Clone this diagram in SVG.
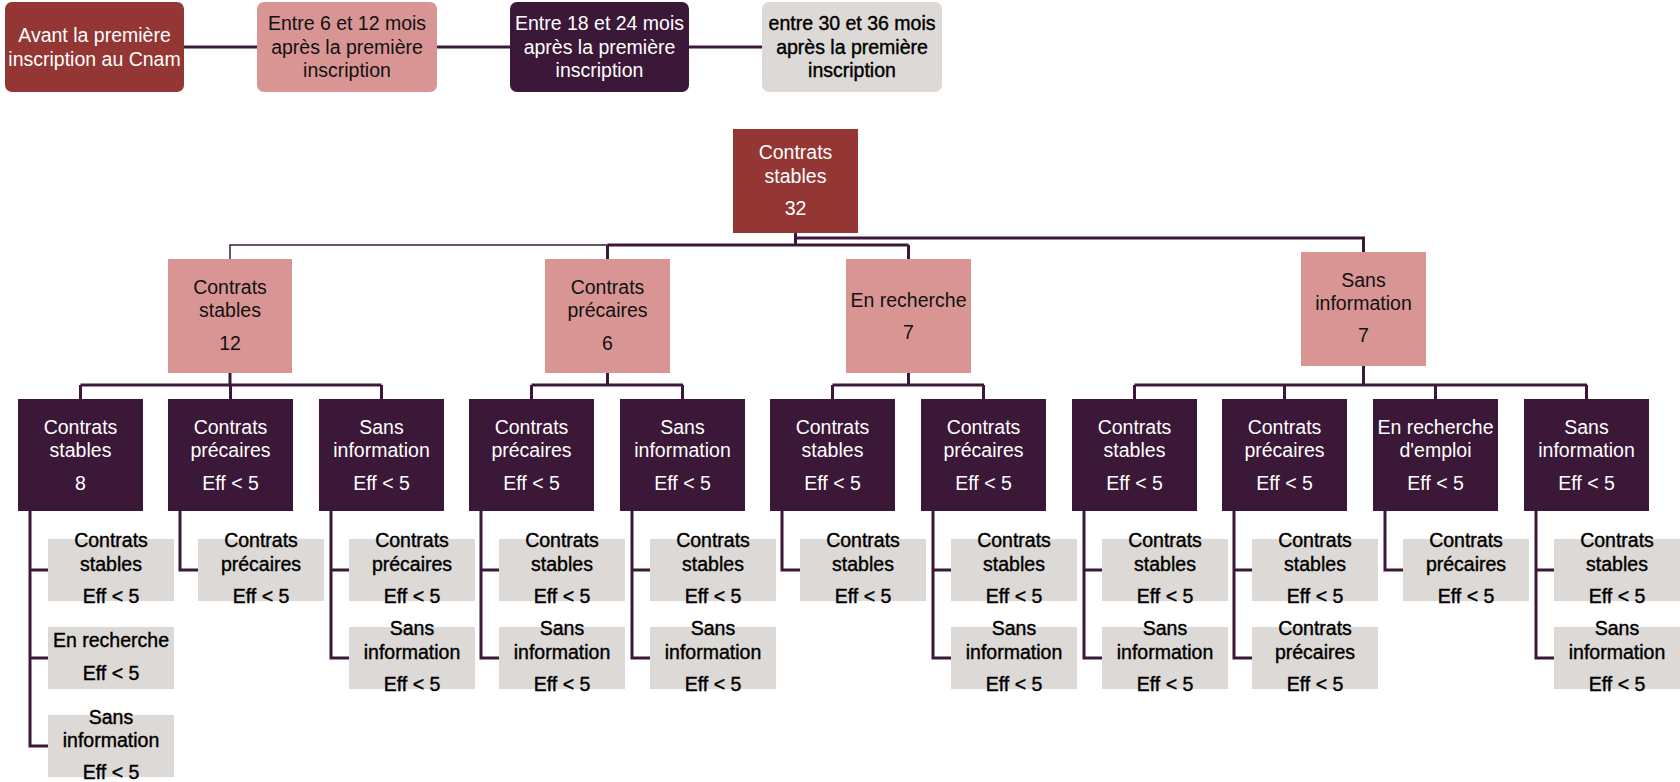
<svg xmlns="http://www.w3.org/2000/svg" width="1680" height="782" viewBox="0 0 1680 782">
<style>
text{font-family:"Liberation Sans",Arial,sans-serif;font-size:19.5px;text-anchor:middle}
.w{fill:#fff}
.k{fill:#111}
.b{fill:#000;stroke:#000;stroke-width:0.4}
.red{fill:#943634}
.pink{fill:#d99594}
.pur{fill:#3b1738}
.gray{fill:#ddd9d6}
.ln{fill:none;stroke:#3b1838;stroke-width:3}
.thin{fill:none;stroke:#3b1838;stroke-width:1.5}
</style>
<rect width="1680" height="782" fill="#fff"/>
<g id="connectors">
<path class="ln" d="M184 47H257M437 47H510M689 47H762"/>
<path class="ln" d="M795.5 233V245M607.5 245H908.5M607.5 245V259M908.5 245V259M795.5 238H1363.5V252"/>
<path class="thin" d="M230 259V245H607.5"/>
<path class="ln" d="M230 373V385M80.5 385H381.5M80.5 385V399M230.5 385V399M381.5 385V399"/>
<path class="ln" d="M607.5 373V385M531.5 385H683M531.5 385V399M682.5 385V399"/>
<path class="ln" d="M908.5 373V385M832.5 385H984M832.5 385V399M983.5 385V399"/>
<path class="ln" d="M1363.5 366V385M1134.5 385H1587M1134.5 385V399M1284.5 385V399M1435.5 385V399M1586.5 385V399"/>
<path class="ln" d="M30 511V746H48M30 570H48M30 658H48"/>
<path class="ln" d="M180 511V570H198"/>
<path class="ln" d="M331 511V658H349M331 570H349"/>
<path class="ln" d="M481 511V658H499M481 570H499"/>
<path class="ln" d="M632 511V658H650M632 570H650"/>
<path class="ln" d="M782 511V570H800"/>
<path class="ln" d="M933 511V658H951M933 570H951"/>
<path class="ln" d="M1084 511V658H1102M1084 570H1102"/>
<path class="ln" d="M1234 511V658H1252M1234 570H1252"/>
<path class="ln" d="M1385 511V570H1403"/>
<path class="ln" d="M1536 511V658H1554M1536 570H1554"/>
</g>
<g id="legend-1"><rect class="red" x="5" y="2" width="179" height="90" rx="7"/><text class="w" x="94.5" y="42">Avant la première</text><text class="w" x="94.5" y="66">inscription au Cnam</text></g>
<g id="legend-2"><rect class="pink" x="257" y="2" width="180" height="90" rx="7"/><text class="k" x="347" y="30">Entre 6 et 12 mois</text><text class="k" x="347" y="54">après la première</text><text class="k" x="347" y="77">inscription</text></g>
<g id="legend-3"><rect class="pur" x="510" y="2" width="179" height="90" rx="7"/><text class="w" x="599.5" y="30">Entre 18 et 24 mois</text><text class="w" x="599.5" y="54">après la première</text><text class="w" x="599.5" y="77">inscription</text></g>
<g id="legend-4"><rect class="gray" x="762" y="2" width="180" height="90" rx="7"/><text class="b" x="852" y="30">entre 30 et 36 mois</text><text class="b" x="852" y="54">après la première</text><text class="b" x="852" y="77">inscription</text></g>
<g id="root"><rect class="red" x="733" y="129" width="125" height="104"/><text class="w" x="795.5" y="159">Contrats</text><text class="w" x="795.5" y="183">stables</text><text class="w" x="795.5" y="215">32</text></g>
<g id="l1-stables"><rect class="pink" x="168" y="259" width="124" height="114"/><text class="k" x="230" y="294">Contrats</text><text class="k" x="230" y="317">stables</text><text class="k" x="230" y="350">12</text></g>
<g id="l1-precaires"><rect class="pink" x="545" y="259" width="125" height="114"/><text class="k" x="607.5" y="294">Contrats</text><text class="k" x="607.5" y="317">précaires</text><text class="k" x="607.5" y="350">6</text></g>
<g id="l1-recherche"><rect class="pink" x="846" y="259" width="125" height="114"/><text class="k" x="908.5" y="307">En recherche</text><text class="k" x="908.5" y="339">7</text></g>
<g id="l1-sansinfo"><rect class="pink" x="1301" y="252" width="125" height="114"/><text class="k" x="1363.5" y="287">Sans</text><text class="k" x="1363.5" y="310">information</text><text class="k" x="1363.5" y="342">7</text></g>
<g id="l2-1"><rect class="pur" x="18" y="399" width="125" height="112"/><text class="w" x="80.5" y="434">Contrats</text><text class="w" x="80.5" y="457">stables</text><text class="w" x="80.5" y="490">8</text></g>
<g id="l2-2"><rect class="pur" x="168" y="399" width="125" height="112"/><text class="w" x="230.5" y="434">Contrats</text><text class="w" x="230.5" y="457">précaires</text><text class="w" x="230.5" y="490">Eff &lt; 5</text></g>
<g id="l2-3"><rect class="pur" x="319" y="399" width="125" height="112"/><text class="w" x="381.5" y="434">Sans</text><text class="w" x="381.5" y="457">information</text><text class="w" x="381.5" y="490">Eff &lt; 5</text></g>
<g id="l2-4"><rect class="pur" x="469" y="399" width="125" height="112"/><text class="w" x="531.5" y="434">Contrats</text><text class="w" x="531.5" y="457">précaires</text><text class="w" x="531.5" y="490">Eff &lt; 5</text></g>
<g id="l2-5"><rect class="pur" x="620" y="399" width="125" height="112"/><text class="w" x="682.5" y="434">Sans</text><text class="w" x="682.5" y="457">information</text><text class="w" x="682.5" y="490">Eff &lt; 5</text></g>
<g id="l2-6"><rect class="pur" x="770" y="399" width="125" height="112"/><text class="w" x="832.5" y="434">Contrats</text><text class="w" x="832.5" y="457">stables</text><text class="w" x="832.5" y="490">Eff &lt; 5</text></g>
<g id="l2-7"><rect class="pur" x="921" y="399" width="125" height="112"/><text class="w" x="983.5" y="434">Contrats</text><text class="w" x="983.5" y="457">précaires</text><text class="w" x="983.5" y="490">Eff &lt; 5</text></g>
<g id="l2-8"><rect class="pur" x="1072" y="399" width="125" height="112"/><text class="w" x="1134.5" y="434">Contrats</text><text class="w" x="1134.5" y="457">stables</text><text class="w" x="1134.5" y="490">Eff &lt; 5</text></g>
<g id="l2-9"><rect class="pur" x="1222" y="399" width="125" height="112"/><text class="w" x="1284.5" y="434">Contrats</text><text class="w" x="1284.5" y="457">précaires</text><text class="w" x="1284.5" y="490">Eff &lt; 5</text></g>
<g id="l2-10"><rect class="pur" x="1373" y="399" width="125" height="112"/><text class="w" x="1435.5" y="434">En recherche</text><text class="w" x="1435.5" y="457">d'emploi</text><text class="w" x="1435.5" y="490">Eff &lt; 5</text></g>
<g id="l2-11"><rect class="pur" x="1524" y="399" width="125" height="112"/><text class="w" x="1586.5" y="434">Sans</text><text class="w" x="1586.5" y="457">information</text><text class="w" x="1586.5" y="490">Eff &lt; 5</text></g>
<g id="l3-1a"><rect class="gray" x="48" y="539" width="126" height="62"/><text class="b" x="111" y="547">Contrats</text><text class="b" x="111" y="571">stables</text><text class="b" x="111" y="603">Eff &lt; 5</text></g>
<g id="l3-1b"><rect class="gray" x="48" y="627" width="126" height="62"/><text class="b" x="111" y="647">En recherche</text><text class="b" x="111" y="680">Eff &lt; 5</text></g>
<g id="l3-1c"><rect class="gray" x="48" y="715" width="126" height="62"/><text class="b" x="111" y="724">Sans</text><text class="b" x="111" y="747">information</text><text class="b" x="111" y="779">Eff &lt; 5</text></g>
<g id="l3-2a"><rect class="gray" x="198" y="539" width="126" height="62"/><text class="b" x="261" y="547">Contrats</text><text class="b" x="261" y="571">précaires</text><text class="b" x="261" y="603">Eff &lt; 5</text></g>
<g id="l3-3a"><rect class="gray" x="349" y="539" width="126" height="62"/><text class="b" x="412" y="547">Contrats</text><text class="b" x="412" y="571">précaires</text><text class="b" x="412" y="603">Eff &lt; 5</text></g>
<g id="l3-3b"><rect class="gray" x="349" y="627" width="126" height="62"/><text class="b" x="412" y="635">Sans</text><text class="b" x="412" y="659">information</text><text class="b" x="412" y="691">Eff &lt; 5</text></g>
<g id="l3-4a"><rect class="gray" x="499" y="539" width="126" height="62"/><text class="b" x="562" y="547">Contrats</text><text class="b" x="562" y="571">stables</text><text class="b" x="562" y="603">Eff &lt; 5</text></g>
<g id="l3-4b"><rect class="gray" x="499" y="627" width="126" height="62"/><text class="b" x="562" y="635">Sans</text><text class="b" x="562" y="659">information</text><text class="b" x="562" y="691">Eff &lt; 5</text></g>
<g id="l3-5a"><rect class="gray" x="650" y="539" width="126" height="62"/><text class="b" x="713" y="547">Contrats</text><text class="b" x="713" y="571">stables</text><text class="b" x="713" y="603">Eff &lt; 5</text></g>
<g id="l3-5b"><rect class="gray" x="650" y="627" width="126" height="62"/><text class="b" x="713" y="635">Sans</text><text class="b" x="713" y="659">information</text><text class="b" x="713" y="691">Eff &lt; 5</text></g>
<g id="l3-6a"><rect class="gray" x="800" y="539" width="126" height="62"/><text class="b" x="863" y="547">Contrats</text><text class="b" x="863" y="571">stables</text><text class="b" x="863" y="603">Eff &lt; 5</text></g>
<g id="l3-7a"><rect class="gray" x="951" y="539" width="126" height="62"/><text class="b" x="1014" y="547">Contrats</text><text class="b" x="1014" y="571">stables</text><text class="b" x="1014" y="603">Eff &lt; 5</text></g>
<g id="l3-7b"><rect class="gray" x="951" y="627" width="126" height="62"/><text class="b" x="1014" y="635">Sans</text><text class="b" x="1014" y="659">information</text><text class="b" x="1014" y="691">Eff &lt; 5</text></g>
<g id="l3-8a"><rect class="gray" x="1102" y="539" width="126" height="62"/><text class="b" x="1165" y="547">Contrats</text><text class="b" x="1165" y="571">stables</text><text class="b" x="1165" y="603">Eff &lt; 5</text></g>
<g id="l3-8b"><rect class="gray" x="1102" y="627" width="126" height="62"/><text class="b" x="1165" y="635">Sans</text><text class="b" x="1165" y="659">information</text><text class="b" x="1165" y="691">Eff &lt; 5</text></g>
<g id="l3-9a"><rect class="gray" x="1252" y="539" width="126" height="62"/><text class="b" x="1315" y="547">Contrats</text><text class="b" x="1315" y="571">stables</text><text class="b" x="1315" y="603">Eff &lt; 5</text></g>
<g id="l3-9b"><rect class="gray" x="1252" y="627" width="126" height="62"/><text class="b" x="1315" y="635">Contrats</text><text class="b" x="1315" y="659">précaires</text><text class="b" x="1315" y="691">Eff &lt; 5</text></g>
<g id="l3-10a"><rect class="gray" x="1403" y="539" width="126" height="62"/><text class="b" x="1466" y="547">Contrats</text><text class="b" x="1466" y="571">précaires</text><text class="b" x="1466" y="603">Eff &lt; 5</text></g>
<g id="l3-11a"><rect class="gray" x="1554" y="539" width="126" height="62"/><text class="b" x="1617" y="547">Contrats</text><text class="b" x="1617" y="571">stables</text><text class="b" x="1617" y="603">Eff &lt; 5</text></g>
<g id="l3-11b"><rect class="gray" x="1554" y="627" width="126" height="62"/><text class="b" x="1617" y="635">Sans</text><text class="b" x="1617" y="659">information</text><text class="b" x="1617" y="691">Eff &lt; 5</text></g>
</svg>
